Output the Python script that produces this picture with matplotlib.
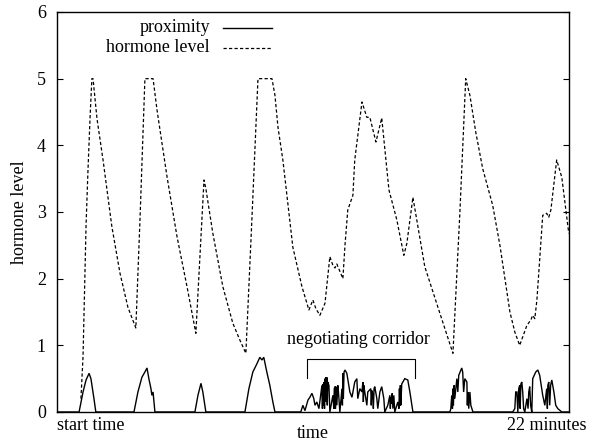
import matplotlib
matplotlib.use('Agg')
import matplotlib.pyplot as plt
import matplotlib.transforms as mtransforms

plt.rcParams['font.family'] = ['Liberation Serif', 'DejaVu Serif']
plt.rcParams['font.size'] = 13

# hormone level (dashed curve), time in minutes
hormone_t = [1.03, 1.12, 1.25, 1.33, 1.42, 1.50, 1.55, 1.72, 1.98, 2.36, 2.71, 3.05, 3.39,
             3.57, 3.78, 4.13, 4.30, 4.73, 5.16, 5.59, 5.97, 6.14, 6.32, 6.40, 6.70,
             7.13, 7.56, 7.86, 8.12, 8.38, 8.64, 9.24, 9.37, 9.50, 9.71, 10.14, 10.53,
             10.83, 11.00, 11.13, 11.30, 11.52, 11.73, 11.86, 11.95, 12.03, 12.29, 12.38,
             12.50, 12.72, 12.80, 13.11, 13.32, 13.45, 13.71, 13.96, 14.27, 14.61, 14.91,
             15.04, 15.30, 15.81, 16.46, 17.02, 17.32, 17.57, 17.75, 18.00, 18.30, 18.73,
             19.04, 19.47, 19.68, 19.89, 20.20, 20.37, 20.45, 20.54, 20.63, 20.88, 21.05,
             21.14, 21.23, 21.48, 21.70, 22.00]
hormone_level = [0.2, 0.83, 2.8, 3.6, 4.4, 5.0, 5.0, 4.4, 3.78, 2.78, 2.08, 1.57, 1.26,
                 2.9, 5.0, 5.0, 4.53, 3.53, 2.63, 1.88, 1.18, 2.3, 3.48, 3.35, 2.68,
                 1.88, 1.33, 1.08, 0.88, 2.9, 5.0, 5.0, 4.75, 4.27, 3.78, 2.47, 1.88,
                 1.53, 1.68, 1.55, 1.45, 1.63, 2.33, 2.2, 2.16, 2.22, 2.0, 2.5,
                 3.03, 3.25, 3.78, 4.65, 4.42, 4.42, 4.05, 4.41, 3.33, 2.88, 2.35,
                 2.53, 3.22, 2.18, 1.48, 0.88, 3.0, 5.0, 4.75, 4.2, 3.65, 3.1,
                 2.5, 1.5, 1.2, 1.0, 1.3, 1.38, 1.45, 1.4, 1.68, 2.95, 2.98,
                 2.92, 3.03, 3.78, 3.52, 2.68]

# proximity (solid curve)
prox_t = [0.0, 0.95, 1.12, 1.25, 1.38, 1.46, 1.59, 1.67,
          3.31, 3.48, 3.65, 3.78, 3.87, 3.95, 4.04, 4.08, 4.13, 4.21,
          5.93, 6.06, 6.19, 6.27, 6.40,
          8.08, 8.25, 8.42, 8.59, 8.72, 8.81, 8.89, 9.02, 9.15, 9.28, 9.37,
          10.48, 10.57, 10.66, 10.79, 10.87, 10.96, 11.04, 11.09, 11.17, 11.26, 11.39,
          11.41, 11.43, 11.45, 11.48, 11.50, 11.52, 11.54, 11.56, 11.58, 11.60, 11.62,
          11.64, 11.69, 11.73, 11.86, 11.90, 11.92, 11.95, 11.97, 11.99, 12.03, 12.07,
          12.10, 12.16, 12.25, 12.27, 12.29, 12.31, 12.34, 12.38, 12.46, 12.59, 12.68,
          12.80, 12.89, 12.93, 13.02, 13.11, 13.15, 13.17, 13.19, 13.23, 13.32, 13.36,
          13.49, 13.51, 13.54, 13.58, 13.60, 13.63, 13.66, 13.75, 13.79, 13.88, 13.96,
          14.05, 14.09, 14.22, 14.31, 14.33, 14.35, 14.38, 14.41, 14.44, 14.48, 14.52,
          14.65, 14.70, 14.72, 14.74, 14.76, 14.78, 14.82, 14.87, 14.95, 15.08, 15.17,
          15.30,
          16.89, 16.93, 16.97, 17.00, 17.02, 17.04, 17.07, 17.10, 17.19, 17.23, 17.27,
          17.40, 17.44, 17.48, 17.53, 17.62, 17.64, 17.66, 17.70, 17.75, 17.79, 17.88,
          19.59, 19.68, 19.72, 19.77, 19.81, 19.85, 19.89, 19.91, 19.94, 19.98, 20.02,
          20.06, 20.11, 20.20, 20.25, 20.28, 20.32, 20.36, 20.41, 20.45, 20.58, 20.67,
          20.75, 20.88, 20.97, 21.05, 21.08, 21.10, 21.14, 21.18, 21.22, 21.27, 21.36,
          21.44, 21.53, 21.70, 22.0]
prox_val = [0, 0, 0.3, 0.48, 0.58, 0.5, 0.2, 0,
            0, 0.3, 0.52, 0.6, 0.66, 0.5, 0.35, 0.25, 0.3, 0,
            0, 0.25, 0.43, 0.3, 0,
            0, 0.35, 0.6, 0.72, 0.82, 0.78, 0.82, 0.6, 0.4, 0.15, 0,
            0, 0.1, 0.02, 0.18, 0.22, 0.28, 0.2, 0.1, 0.15, 0.05, 0.4,
            0.05, 0.42, 0.1, 0.45, 0.05, 0.5, 0.15, 0.52, 0.2, 0.52, 0.1,
            0.45, 0.4, 0, 0.25, 0.05, 0.35, 0.38, 0.05, 0.38, 0.1, 0.4,
            0.3, 0, 0.35, 0.1, 0.58, 0.2, 0.6, 0.63, 0.58, 0.3, 0.22,
            0.45, 0.5, 0.2, 0.35, 0.3, 0.45, 0.15, 0.4, 0.3, 0.1, 0.3,
            0.35, 0.1, 0.32, 0.25, 0.05, 0.35, 0.38, 0.2, 0.05, 0.3, 0.38,
            0.2, 0, 0.1, 0.25, 0.05, 0.22, 0.12, 0.28, 0.05, 0.25, 0,
            0.15, 0.05, 0.35, 0.1, 0.4, 0.1, 0.42, 0.45, 0.5, 0.48, 0.3,
            0,
            0, 0.05, 0.25, 0.05, 0.35, 0.1, 0.4, 0.2, 0.5, 0.3, 0.55,
            0.66, 0.6, 0.3, 0.5, 0.45, 0.1, 0.3, 0.05, 0.3, 0.1, 0,
            0, 0.05, 0.3, 0.3, 0, 0.35, 0.4, 0.05, 0.42, 0.45, 0.3,
            0.05, 0, 0.2, 0.05, 0.3, 0.38, 0.1, 0, 0.5, 0.6, 0.63,
            0.55, 0.25, 0.1, 0.35, 0.05, 0.4, 0.45, 0.1, 0.4, 0.48, 0.3,
            0.1, 0.05, 0, 0]

y_ticks = [0, 1, 2, 3, 4, 5, 6]
corridor_start, corridor_end = 10.74, 15.38
corridor_top, corridor_bottom = 0.795, 0.51


def draw():
    fig = plt.figure(figsize=(5.91, 4.41), dpi=100)
    ax = fig.add_axes([0.0964, 0.0658, 0.866, 0.907])

    ax.plot(prox_t, prox_val, color='black', lw=1.0, solid_joinstyle='miter')
    ax.plot(hormone_t, hormone_level, color='black', lw=0.9, dashes=(2.6, 1.8))

    ax.set_xlim(0, 22)
    ax.set_ylim(0, 6)
    ax.set_xticks([])
    ax.set_yticks(y_ticks)
    ax.tick_params(axis='y', direction='in', length=4, width=0.8, right=True, pad=8)
    for s in ax.spines.values():
        s.set_linewidth(1.0)

    ax.set_ylabel('hormone level', labelpad=6)

    trans = mtransforms.blended_transform_factory(ax.transData, ax.transAxes)
    ax.text(0, -0.035, 'start time', transform=trans, ha='left', va='center', clip_on=False)
    ax.text(22.77, -0.035, '22 minutes', transform=trans, ha='right', va='center', clip_on=False)
    ax.text(11, -0.055, 'time', transform=trans, ha='center', va='center', clip_on=False)

    # legend in gnuplot style: text right-justified, sample to the right
    ax.text(0.299, 0.96, 'proximity', transform=ax.transAxes, ha='right', va='center')
    ax.text(0.299, 0.91, 'hormone level', transform=ax.transAxes, ha='right', va='center')
    ax.plot([0.324, 0.42], [0.96, 0.96], transform=ax.transAxes, color='black', lw=1.0)
    ax.plot([0.324, 0.42], [0.91, 0.91], transform=ax.transAxes, color='black', lw=0.9,
            dashes=(2.6, 1.8))

    # negotiating corridor bracket
    ax.plot([corridor_start, corridor_start, corridor_end, corridor_end],
            [corridor_bottom, corridor_top, corridor_top, corridor_bottom],
            color='black', lw=0.8)
    ax.text((corridor_start + corridor_end) / 2 - 0.1, 1.08, 'negotiating corridor',
            ha='center', va='center')

    fig.savefig('out.png', dpi=100)


if __name__ == '__main__':
    draw()
